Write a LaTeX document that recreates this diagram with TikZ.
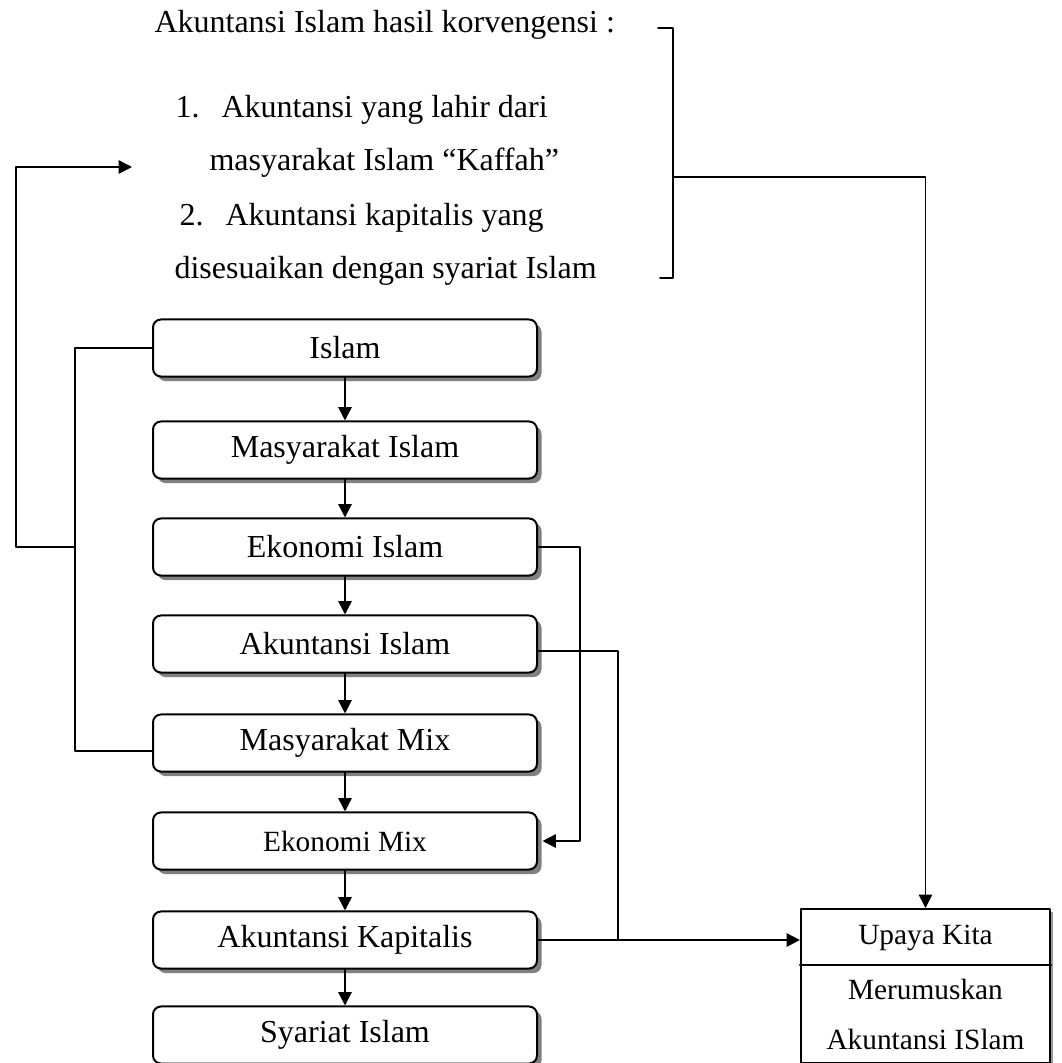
\documentclass[tikz,border=0pt]{standalone}
\usepackage{fontspec}
\setmainfont{Liberation Serif}
\usepackage{tikz}
\usetikzlibrary{arrows.meta,calc,shadows}
\tikzset{
  every picture/.append style={line cap=round,line join=round},
  akt box/.style={draw,line width=0.75pt,rounded corners=3pt,fill=white,minimum width=144pt,minimum height=21.4pt,inner sep=0pt,font=\fontsize{12}{14}\selectfont,drop shadow={shadow xshift=1.7pt,shadow yshift=-1.7pt,fill=black!50,opacity=1}},
  akt plain/.style={draw,line width=0.75pt,fill=white,minimum width=93.4pt,inner sep=0pt,drop shadow={shadow xshift=1.2pt,shadow yshift=-1.2pt,fill=black!40,opacity=1}},
  akt text/.style={inner sep=0pt,align=center,font=\fontsize{11}{18.75}\selectfont},
  akt line/.style={line width=0.6pt},
  akt arrow/.style={line width=0.6pt,-{Triangle[length=5pt,width=5pt]}},
  akt note/.style={font=\fontsize{12}{14}\selectfont,anchor=base west,inner sep=0pt}
}

\begin{document}
\begin{tikzpicture}[x=0.375pt,y=-0.375pt]
  \useasboundingbox (0,0) rectangle (1062,1063);
  % chain of boxes
  \node[akt box] (islam) at (345,348) {Islam};
  \node[akt box] (msislam) at (345,450) {Masyarakat Islam};
  \node[akt box] (ekislam) at (345,547) {Ekonomi Islam};
  \node[akt box] (akislam) at (345,644) {Akuntansi Islam};
  \node[akt box] (msmix) at (345,743) {Masyarakat Mix};
  \node[akt box,font=\fontsize{11}{13}\selectfont] (ekmix) at (345,841) {Ekonomi Mix};
  \node[akt box] (akkap) at (345,940) {Akuntansi Kapitalis};
  \node[akt box] (syariat) at (345,1035) {Syariat Islam};
  \foreach \a/\b in {islam/msislam,msislam/ekislam,ekislam/akislam,akislam/msmix,msmix/ekmix,ekmix/akkap,akkap/syariat}
    \draw[akt arrow] (\a) -- (\b);

  % list at the top
  \node[akt note] (judul) at (154,32) {Akuntansi Islam hasil korvengensi :};
  \node[akt note] (poin1) at (175,117) {\makebox[17.25pt][l]{1.}Akuntansi yang lahir dari};
  \node[akt note] (kaffah) at (209,170) {masyarakat Islam “Kaffah”};
  \node[akt note] (poin2) at (179,225) {\makebox[17.25pt][l]{2.}Akuntansi kapitalis yang};
  \node[akt note] (syariah) at (174,278) {disesuaikan dengan syariat Islam};

  % result box
  \node[akt plain,minimum height=57.75pt] (hasil) at (925.5,986) {};
  \path (hasil.north west) ++(0,57) coordinate (splitL);
  \draw[line width=0.75pt] (splitL) -- (splitL -| hasil.east);
  \node[akt text] (upaya) at (925.5,938) {Upaya Kita};
  \node[akt text] (rumus) at (925.5,1014) {Merumuskan\\Akuntansi ISlam};

  % bracket
  \coordinate (brtop) at (658,28);
  \coordinate (brbot) at (660,278);
  \coordinate (brmid) at (673,177);
  \draw[akt line] (brtop) -| (brmid) |- (brbot);
  \draw[akt arrow] (brmid) -| (upaya |- hasil.north);

  % left side
  \coordinate (spine) at (75,0);
  \coordinate (farleft) at (16,0);
  \coordinate (listin) at (132,167);
  \path ([yshift=-3pt]msmix.west) coordinate (mixin);
  \draw[akt line] (islam.west) -| (spine |- mixin) -- (mixin);
  \draw[akt arrow] (spine |- ekislam) -| (farleft |- listin) -- (listin);

  % right side
  \coordinate (rail1) at (580,0);
  \coordinate (rail2) at (618,0);
  \draw[akt arrow] (ekislam.east) -| (rail1 |- ekmix) -- ([xshift=1.7pt]ekmix.east);
  \path ([yshift=-2.6pt]akislam.east) coordinate (akout);
  \draw[akt line] (akout) -| (rail2 |- akkap);
  \draw[akt arrow] (akkap.east) -- (hasil.west |- akkap);
\end{tikzpicture}
\end{document}
